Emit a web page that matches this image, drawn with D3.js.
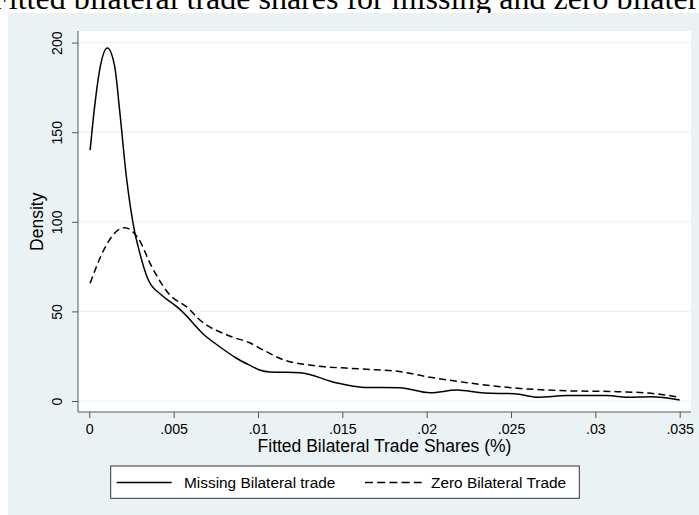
<!DOCTYPE html>
<html><head><meta charset="utf-8">
<script src="https://cdn.jsdelivr.net/npm/d3@7"></script>
<style>body{margin:0;background:#fff;}svg{display:block;}</style>
</head><body>
<svg id="c" width="699" height="515"></svg>
<script>
const titleText = "Fitted bilateral trade shares for missing and zero bilateral trade";
const xTicks = [0, 0.005, 0.01, 0.015, 0.02, 0.025, 0.03, 0.035];
const xTickLabels = ["0", ".005", ".01", ".015", ".02", ".025", ".03", ".035"];
const yTicks = [0, 50, 100, 150, 200];
const seriesNames = ["Missing Bilateral trade", "Zero Bilateral Trade"];
const missingX = [0.00005,0.0003,0.0006,0.00107,0.0015,0.0018,0.0022,0.0027,0.0029,0.0035,0.0043,0.0052,0.0055,0.0068,0.0077,0.0087,0.0095,0.0101,0.0107,0.0125,0.0145,0.0163,0.0184,0.0202,0.0218,0.0234,0.0252,0.0266,0.0283,0.0307,0.0319,0.0333,0.035];
const missingY = [140,163,184,197,187,162,125,94,86,67.5,59,52.5,50,37,30.5,24,20,17.3,16.2,15.8,10.5,7.6,7.4,4.6,6.1,4.4,4.1,2.1,3,3,2.1,2.4,0.6];
const zeroX = [0.00005,0.0009,0.0017,0.0021,0.0029,0.0037,0.0047,0.0059,0.0064,0.0084,0.0095,0.0103,0.0115,0.0133,0.0161,0.0184,0.020,0.0224,0.0254,0.0283,0.0313,0.0333,0.035];
const zeroY = [65.7,85,95.4,96.7,90.8,75,60,51.5,46.5,36,32.5,28.5,23,19.8,17.9,16.4,13.6,10.2,7.1,5.7,5.2,4.3,2.1];

const svg = d3.select("#c");
const bg = "#EAF2F3";
const sans = "'Liberation Sans', Arial, Helvetica, sans-serif";
svg.append("rect").attr("x",0).attr("y",0).attr("width",699).attr("height",515).attr("fill","#fff");
svg.append("text").attr("x",-9).attr("y",9).attr("font-family","'Liberation Serif', 'Times New Roman', serif")
  .attr("font-size",32).attr("fill","#000").text(titleText);
svg.append("rect").attr("x",8).attr("y",13).attr("width",691).attr("height",502).attr("fill",bg);

const pl = 78, pr = 691, pt = 31, pb = 412;
svg.append("rect").attr("x",pl).attr("y",pt).attr("width",pr-pl).attr("height",pb-pt).attr("fill","#fff");

const x = d3.scaleLinear().domain([0,0.035]).range([89.3,679.7]);
const y = d3.scaleLinear().domain([0,200]).range([401,42.6]);

// gridlines
svg.append("g").selectAll("line").data(yTicks).join("line")
  .attr("x1",pl).attr("x2",pr).attr("y1",d=>y(d)).attr("y2",d=>y(d))
  .attr("stroke",bg).attr("stroke-width",1.2);

// axes
const yAxis = d3.axisLeft(y).tickValues(yTicks).tickSize(6).tickPadding(4).tickFormat(d3.format("d"));
const gy = svg.append("g").attr("transform",`translate(${pl},0)`).call(yAxis);
gy.select(".domain").attr("d",`M0,${pt}V${pb}`).attr("stroke","#555");
gy.selectAll(".tick line").attr("stroke","#555");
gy.selectAll(".tick text").attr("font-family",sans).attr("font-size",14.2).attr("fill","#000")
  .attr("text-anchor","middle").attr("dy",null).attr("x",null)
  .attr("transform","translate(-16,0) rotate(-90)").attr("y",0);

const xAxis = d3.axisBottom(x).tickValues(xTicks).tickSize(6).tickPadding(4).tickFormat((d,i)=>xTickLabels[i]);
const gx = svg.append("g").attr("transform",`translate(0,${pb})`).call(xAxis);
gx.select(".domain").attr("d",`M${pl},0H${pr}`).attr("stroke","#555");
gx.selectAll(".tick line").attr("stroke","#555");
gx.selectAll(".tick text").attr("font-family",sans).attr("font-size",14.2).attr("fill","#000")
  .attr("dy",null).attr("y",21.5);

svg.append("text").attr("x",(pl+pr)/2).attr("y",452).attr("text-anchor","middle")
  .attr("font-family",sans).attr("font-size",17.5).text("Fitted Bilateral Trade Shares (%)");
svg.append("text").attr("transform",`translate(42.5,${(y(0)+y(200))/2}) rotate(-90)`).attr("text-anchor","middle")
  .attr("font-family",sans).attr("font-size",17.5).text("Density");

const line = d3.line().x(d=>x(d[0])).y(d=>y(d[1])).curve(d3.curveMonotoneX);
const mData = missingX.map((v,i)=>[v,missingY[i]]);
const zData = zeroX.map((v,i)=>[v,zeroY[i]]);
svg.append("path").datum(zData).attr("d",line).attr("fill","none").attr("stroke","#000")
  .attr("stroke-width",1.5).attr("stroke-dasharray","7,4");
svg.append("path").datum(mData).attr("d",line).attr("fill","none").attr("stroke","#000")
  .attr("stroke-width",1.5);

// legend
const lg = svg.append("g");
lg.append("rect").attr("x",110.7).attr("y",466).attr("width",468.6).attr("height",32.3)
  .attr("fill","#fff").attr("stroke","#333").attr("stroke-width",1);
lg.append("line").attr("x1",116.7).attr("x2",171.7).attr("y1",482.5).attr("y2",482.5).attr("stroke","#000").attr("stroke-width",1.5);
lg.append("text").attr("x",184).attr("y",488).attr("font-family",sans).attr("font-size",15.4).text(seriesNames[0]);
lg.append("line").attr("x1",365).attr("x2",421.7).attr("y1",482.5).attr("y2",482.5).attr("stroke","#000").attr("stroke-width",1.5).attr("stroke-dasharray","8,4.2");
lg.append("text").attr("x",431).attr("y",488).attr("font-family",sans).attr("font-size",15.4).text(seriesNames[1]);
</script>
</body></html>
